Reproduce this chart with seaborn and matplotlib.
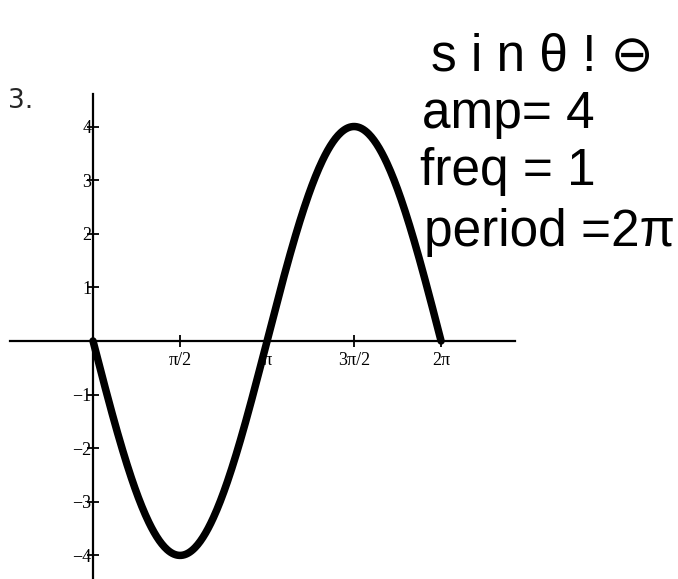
import numpy as np
import matplotlib
matplotlib.use("Agg")
import matplotlib.pyplot as plt
import seaborn as sns
import pandas as pd

# Function parameters written beside the graph
amplitude = 4
frequency = 1
sign = -1
period_label = "2π"

x_ticks = [np.pi / 2, np.pi, 3 * np.pi / 2, 2 * np.pi]
x_tick_labels = ["π/2", "π", "3π/2", "2π"]
y_ticks = [-4, -3, -2, -1, 1, 2, 3, 4]
y_tick_labels = ["−4", "−3", "−2", "−1", "1", "2", "3", "4"]

notes = ["s i n θ ! ⊖", "amp= 4", "freq = 1", "period =" + period_label]

theta = np.linspace(0, 2 * np.pi, 400)
df = pd.DataFrame({"theta": theta,
                   "y": sign * amplitude * np.sin(frequency * theta)})

sns.set_style("white")
plt.rcParams["font.family"] = ["DejaVu Sans"]

fig = plt.figure(figsize=(6.78, 5.79), dpi=100)
ax = fig.add_axes([0, 0, 1, 1])
ax.set_xlim(-1.679, 10.56)
ax.set_ylim(-4.44, 6.36)

sns.lineplot(data=df, x="theta", y="y", ax=ax, color="black",
             linewidth=5.4, zorder=3, solid_capstyle="round")

for s in ["top", "right"]:
    ax.spines[s].set_visible(False)
ax.spines["left"].set_position(("data", 0))
ax.spines["bottom"].set_position(("data", 0))
ax.spines["left"].set_bounds(-4.44, 4.6)
ax.spines["bottom"].set_bounds(-1.5, 7.62)
for s in ["left", "bottom"]:
    ax.spines[s].set_linewidth(1.6)
    ax.spines[s].set_color("black")

ax.set_xticks(x_ticks)
ax.set_xticklabels(x_tick_labels, family="Liberation Serif", fontsize=13)
ax.set_yticks(y_ticks)
ax.set_yticklabels(y_tick_labels, family="Liberation Serif", fontsize=13)
ax.tick_params(axis="both", direction="inout", length=8, width=1.3,
               color="black", labelcolor="black", bottom=True, left=True)
ax.tick_params(axis="x", pad=4)
ax.tick_params(axis="y", pad=-3)
ax.set_xlabel("")
ax.set_ylabel("")

fig.text(0.012, 0.8135, "3.", fontsize=19, family="DejaVu Sans",
         va="baseline")

hand = dict(family=["Liberation Sans", "DejaVu Sans"], fontsize=37,
            color="black", va="baseline")
fig.text(0.635, 0.878, notes[0], **hand)
fig.text(0.622, 0.779, notes[1], **hand)
fig.text(0.62, 0.68, notes[2], **hand)
fig.text(0.626, 0.575, notes[3], **hand)

fig.savefig("out.png", dpi=100, facecolor="white")
